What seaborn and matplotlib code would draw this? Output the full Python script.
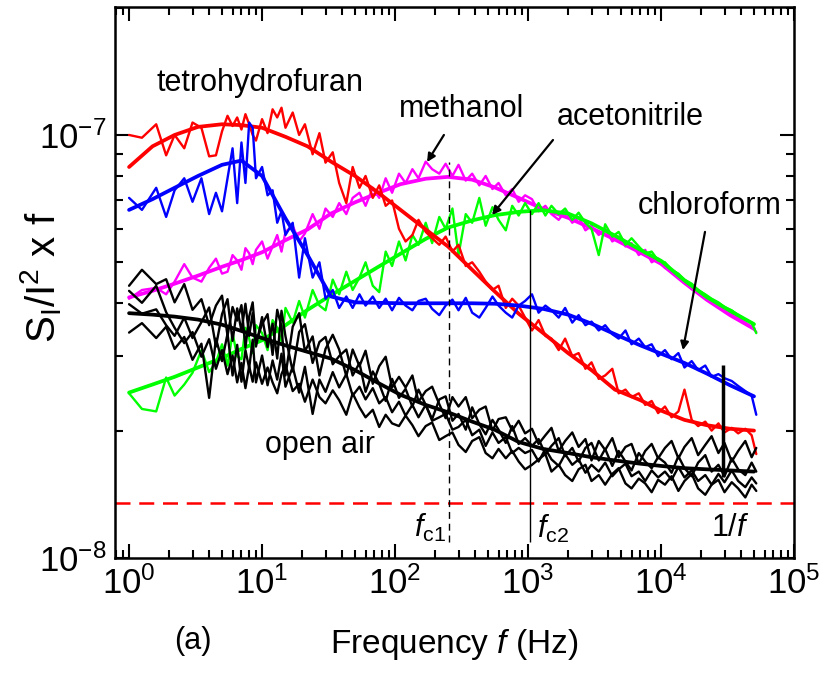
import numpy as np
import seaborn as sns
import matplotlib
matplotlib.use('Agg')
import matplotlib.pyplot as plt
from matplotlib.ticker import LogLocator, NullFormatter

# measured spectra, S_I/I^2 x f in units of 1e-8, on a common frequency grid (Hz)
freq = [1.0, 1.25, 1.6, 1.9, 2.2, 2.6, 3.0, 3.5, 4.0, 4.5, 5.0, 5.5, 6.0, 6.5, 7.0, 7.5, 8.0, 8.5, 9.0,
        10, 11, 12, 13, 14, 15, 17, 19, 21, 24, 27, 30, 34, 38, 43, 48, 54, 60, 68, 76, 85, 95,
        107, 120, 135, 150, 170, 190, 215, 240, 270, 300, 340, 380, 430, 480, 540, 600, 680, 760, 850, 950,
        1070, 1200, 1350, 1500, 1700, 1900, 2150, 2400, 2700, 3000, 3400, 3800, 4300, 4800, 5400, 6000, 6800, 7600, 8500, 9500,
        10700, 12000, 13500, 15000, 17000, 19000, 21500, 24000, 27000, 30000, 34000, 38000, 43000, 48000, 52000]

thf = [10.0, 9.85, 10.6, 8.95, 10.0, 9.3, 10.7, 10.4, 8.9, 8.95, 10.2, 11.1, 10.5, 11.0, 10.3, 11.2, 10.6, 10.0, 9.7,
       10.9, 10.1, 11.5, 11.0, 11.6, 10.4, 11.3, 10.0, 10.6, 9.0, 10.1, 8.6, 9.1, 7.7, 6.9, 8.4, 7.5, 8.0, 7.1, 7.6, 6.8, 7.0,
       6.0, 5.6, 5.8, 6.3, 5.9, 5.7, 5.5, 5.75, 5.3, 5.5, 4.9, 5.0, 4.75, 4.5, 4.3, 4.4, 3.9, 4.1, 3.95, 3.7,
       3.45, 3.65, 3.35, 3.3, 3.1, 3.3, 3.0, 3.05, 2.8, 2.9, 2.65, 2.7, 2.8, 2.45, 2.5, 2.4, 2.45, 2.3, 2.35, 2.2,
       2.28, 2.15, 2.22, 2.5, 2.12, 2.05, 2.1, 2.0, 2.08, 1.98, 2.03, 1.97, 2.02, 1.95, 1.76]

chloroform = [7.1, 6.65, 7.5, 6.4, 7.4, 7.9, 6.95, 7.9, 6.5, 7.3, 6.6, 7.9, 9.3, 6.9, 9.6, 7.7, 10.7, 10.4, 7.9,
              8.4, 7.2, 7.4, 6.2, 6.6, 5.8, 6.2, 4.6, 5.7, 4.6, 5.0, 4.1, 4.3, 3.9, 4.15, 3.9, 4.2, 3.95, 4.15, 3.9, 4.1, 3.85,
              4.12, 3.95, 3.85, 4.05, 4.1, 3.88, 3.75, 3.95, 4.08, 3.85, 4.12, 3.8, 3.7, 3.9, 4.15, 3.95, 3.8, 3.7, 3.95, 4.05,
              4.2, 3.8, 3.95, 3.85, 3.7, 3.9, 3.6, 3.75, 3.55, 3.62, 3.45, 3.55, 3.38, 3.3, 3.45, 3.2, 3.3, 3.15, 3.2, 3.0,
              3.1, 2.95, 3.05, 2.82, 2.92, 2.78, 2.85, 2.68, 2.72, 2.66, 2.62, 2.55, 2.48, 2.42, 2.18]

methanol = [4.1, 4.3, 4.35, 4.2, 4.5, 4.95, 4.6, 4.5, 4.85, 5.1, 4.7, 4.75, 5.2, 5.05, 4.8, 5.4, 5.25, 4.95, 5.35,
            5.6, 5.1, 5.45, 5.8, 5.3, 5.9, 6.1, 5.6, 5.85, 6.5, 6.0, 6.7, 6.4, 6.9, 6.5, 7.1, 7.3, 6.8, 7.5, 7.1, 7.9, 7.3,
            8.1, 7.7, 8.3, 7.9, 8.65, 8.3, 8.1, 8.55, 8.0, 8.5, 7.8, 8.1, 7.6, 8.0, 7.45, 7.7, 7.2, 7.45, 6.95, 7.2,
            7.05, 6.6, 6.8, 6.5, 6.3, 6.6, 6.2, 6.4, 5.95, 6.1, 5.8, 6.0, 5.6, 5.75, 5.45, 5.55, 5.2, 5.35, 5.0, 5.1,
            4.85, 4.78, 4.6, 4.5, 4.32, 4.3, 4.1, 4.05, 3.9, 3.9, 3.78, 3.7, 3.6, 3.52, 3.42]

acetonitrile = [2.45, 2.25, 2.22, 2.67, 2.42, 2.57, 2.74, 3.1, 2.75, 2.9, 3.2, 2.85, 3.4, 3.0, 2.95, 3.5, 3.3, 3.05, 3.55,
                3.4, 3.1, 3.65, 3.5, 3.25, 3.9, 3.6, 4.05, 3.7, 4.3, 3.95, 3.85, 4.55, 4.2, 4.75, 4.3, 4.6, 5.0, 4.4, 4.25, 5.3, 4.9,
                5.6, 5.05, 5.8, 5.5, 6.2, 5.55, 6.4, 6.0, 6.7, 5.2, 6.5, 6.2, 7.1, 6.1, 6.75, 6.3, 5.95, 6.8, 6.45, 6.9,
                6.5, 6.9, 6.45, 6.8, 6.5, 6.7, 6.3, 6.55, 6.2, 6.0, 5.2, 6.15, 5.75, 5.9, 5.5, 5.7, 5.45, 5.25, 5.3, 5.05,
                5.0, 4.8, 4.7, 4.55, 4.45, 4.3, 4.2, 4.1, 4.02, 3.92, 3.85, 3.75, 3.66, 3.6, 3.4]

air_1 = [4.4, 4.8, 4.44, 4.56, 4.02, 4.44, 3.86, 4.09, 3.55, 3.95, 4.17, 3.35, 3.92, 3.64, 3.96, 3.14, 3.72, 4.02, 3.23,
         3.57, 3.77, 3.02, 3.86, 3.52, 2.7, 3.52, 3.79, 3.08, 3.34, 2.7, 3.12, 3.37, 3.11, 2.69, 3.11, 2.84, 3.09, 2.58, 2.84, 2.99, 2.53,
         2.68, 2.53, 2.7, 2.34, 2.48, 2.54, 2.31, 2.14, 2.4, 2.28, 2.4, 2.14, 2.24, 2.28, 2.0, 2.13, 2.15, 2.0, 2.11, 1.97,
         2.02, 1.86, 1.95, 2.03, 1.79, 1.89, 1.98, 1.83, 1.91, 1.7, 1.89, 1.8, 1.92, 1.73, 1.83, 1.86, 1.67, 1.79, 1.86, 1.72,
         1.82, 1.89, 1.72, 1.83, 1.92, 1.75, 1.85, 1.94, 1.77, 1.87, 1.69, 1.79, 1.89, 1.73, 1.82]
air_2 = [3.98, 3.78, 3.87, 3.55, 3.35, 3.7, 3.31, 3.61, 3.91, 3.16, 3.77, 4.09, 3.26, 3.89, 3.44, 3.99, 3.35, 3.79, 3.16,
         3.71, 3.15, 3.58, 2.96, 3.84, 3.34, 2.76, 3.42, 3.57, 2.89, 3.24, 3.33, 2.87, 3.0, 3.11, 2.7, 2.89, 2.47, 2.76, 2.58, 2.35, 2.65,
         2.39, 2.51, 2.28, 2.5, 2.3, 2.13, 2.37, 2.41, 2.11, 2.19, 2.01, 2.27, 2.07, 1.96, 2.12, 2.01, 1.87, 2.05, 1.86, 1.92,
         1.84, 1.91, 1.76, 1.84, 1.92, 1.74, 1.82, 1.69, 1.82, 1.87, 1.7, 1.81, 1.65, 1.79, 1.69, 1.61, 1.77, 1.69, 1.63, 1.73,
         1.68, 1.59, 1.74, 1.63, 1.56, 1.68, 1.75, 1.6, 1.66, 1.56, 1.72, 1.62, 1.57, 1.68, 1.6]
air_3 = [3.41, 3.59, 3.31, 3.52, 3.12, 3.33, 2.94, 3.21, 2.39, 3.3, 2.92, 3.39, 2.7, 3.19, 2.61, 3.1, 2.81, 3.28, 2.6,
         3.01, 2.56, 2.93, 2.64, 3.04, 2.54, 2.83, 2.46, 2.83, 2.19, 2.64, 2.47, 2.75, 2.53, 2.72, 2.42, 2.54, 2.37, 2.52, 2.32, 2.4, 2.21,
         2.34, 2.17, 2.3, 2.15, 2.3, 2.11, 2.15, 2.19, 2.01, 2.04, 2.12, 1.95, 2.01, 1.84, 1.98, 1.87, 1.93, 1.77, 1.82, 1.77,
         1.8, 1.69, 1.81, 1.71, 1.65, 1.76, 1.66, 1.71, 1.59, 1.66, 1.6, 1.68, 1.56, 1.62, 1.67, 1.56, 1.6, 1.52, 1.61, 1.55,
         1.6, 1.53, 1.64, 1.55, 1.61, 1.52, 1.57, 1.49, 1.58, 1.51, 1.61, 1.52, 1.47, 1.55, 1.5]
air_4 = [4.28, 4.01, 4.4, 3.81, 3.5, 3.22, 3.42, 2.99, 3.29, 2.8, 3.1, 2.72, 3.01, 2.6, 2.89, 2.52, 2.84, 2.61, 2.9,
         2.58, 2.82, 2.6, 2.45, 2.72, 2.86, 2.48, 2.58, 2.34, 2.64, 2.4, 2.32, 2.49, 2.36, 2.18, 2.45, 2.27, 2.15, 2.24, 2.04, 2.18, 2.08,
         2.05, 2.17, 2.06, 1.94, 2.05, 2.09, 1.9, 1.94, 1.98, 1.85, 1.78, 1.89, 1.93, 1.77, 1.72, 1.81, 1.72, 1.79, 1.69, 1.62,
         1.66, 1.71, 1.76, 1.6, 1.66, 1.57, 1.52, 1.62, 1.66, 1.52, 1.57, 1.49, 1.58, 1.63, 1.5, 1.46, 1.54, 1.5, 1.43, 1.53,
         1.49, 1.56, 1.44, 1.52, 1.58, 1.46, 1.41, 1.49, 1.53, 1.43, 1.51, 1.46, 1.39, 1.49, 1.44]

# fitted curves (same units)
fit_freq = [1, 1.5, 2.2, 3.3, 5, 7, 10, 15, 22, 33, 50, 75, 110, 170, 250, 380, 560, 850,
            1300, 2000, 3000, 4500, 7000, 10000, 15000, 22000, 33000, 50000]
thf_fit = [8.4, 9.4, 10.0, 10.45, 10.6, 10.55, 10.4, 9.9, 9.4, 8.65, 8.0, 7.3, 6.65, 5.98, 5.45, 4.8, 4.27, 3.78,
           3.4, 3.05, 2.78, 2.5, 2.36, 2.23, 2.12, 2.06, 2.02, 2.0]
chloroform_fit = [6.65, 7.05, 7.5, 8.0, 8.5, 8.7, 8.0, 6.35, 5.2, 4.15, 4.02, 4.01, 4.0, 4.0, 4.0, 4.0, 3.99, 3.95,
                  3.88, 3.76, 3.58, 3.38, 3.18, 3.04, 2.89, 2.73, 2.56, 2.41]
methanol_fit = [4.13, 4.28, 4.45, 4.65, 4.88, 5.06, 5.28, 5.64, 5.98, 6.52, 6.93, 7.30, 7.65, 7.88, 7.96, 7.84, 7.52, 7.10,
                6.68, 6.37, 6.02, 5.66, 5.27, 4.96, 4.47, 4.08, 3.75, 3.48]
acetonitrile_fit = [2.46, 2.57, 2.68, 2.82, 2.97, 3.12, 3.27, 3.55, 3.86, 4.18, 4.52, 4.88, 5.24, 5.68, 6.04, 6.28, 6.46, 6.58,
                    6.64, 6.52, 6.18, 5.78, 5.35, 5.04, 4.53, 4.14, 3.84, 3.57]
air_fit = [3.79, 3.76, 3.72, 3.66, 3.56, 3.44, 3.31, 3.18, 3.07, 2.96, 2.78, 2.59, 2.43, 2.30, 2.21, 2.10, 2.01, 1.88,
           1.81, 1.77, 1.73, 1.70, 1.67, 1.65, 1.63, 1.62, 1.61, 1.60]

# markers
f_c1, f_c2, f_one = 255, 1035, 29000
c1_span = [1.09, 8.63]
c2_span = [1.09, 6.65]
one_span = [1.55, 2.86]
noise_floor = 1.35

sns.set_style('ticks')
plt.rcParams['font.family'] = ['Liberation Sans', 'DejaVu Sans']
plt.rcParams['mathtext.fontset'] = 'custom'
plt.rcParams['mathtext.rm'] = 'Liberation Sans'
plt.rcParams['mathtext.it'] = 'Liberation Sans:italic'
plt.rcParams['mathtext.bf'] = 'Liberation Sans:bold'
for key in ['axes.edgecolor', 'xtick.color', 'ytick.color', 'text.color', 'axes.labelcolor']:
    plt.rcParams[key] = 'black'

fig = plt.figure(figsize=(8.22, 6.73), dpi=100)
ax = fig.add_axes([0.140, 0.171, 0.826, 0.819])
ax.set_xscale('log')
ax.set_yscale('log')

u = 1e-8
series = [(methanol, methanol_fit, '#ff00ff'),
          (acetonitrile, acetonitrile_fit, '#00ff00'),
          (thf, thf_fit, '#ff0000'),
          (chloroform, chloroform_fit, '#0000ff')]
for vals, fit, col in series:
    sns.lineplot(x=freq, y=np.array(vals) * u, color=col, lw=1.7, ax=ax)
    sns.lineplot(x=fit_freq, y=np.array(fit) * u, color=col, lw=2.7, ax=ax)
for vals in [air_1, air_2, air_3, air_4]:
    sns.lineplot(x=freq, y=np.array(vals) * u, color='black', lw=1.7, ax=ax)
sns.lineplot(x=fit_freq, y=np.array(air_fit) * u, color='black', lw=2.7, ax=ax)

ax.axhline(noise_floor * u, color='red', lw=1.8, ls=(0, (6, 3.5)))
ax.vlines(f_c1, c1_span[0] * u, c1_span[1] * u, color='black', lw=1.0, ls=(0, (5, 3.5)))
ax.vlines(f_c2, c2_span[0] * u, c2_span[1] * u, color='black', lw=1.0)
ax.vlines(f_one, one_span[0] * u, one_span[1] * u, color='black', lw=2.5)

ax.set_xlim(0.785, 1e5)
ax.set_ylim(1e-8, 2.01e-7)

for sp in ax.spines.values():
    sp.set_linewidth(1.8)
ax.tick_params(which='both', direction='in', top=True, right=True, width=1.5, color='black')
ax.tick_params(which='major', length=10, labelsize=25, pad=6)
ax.tick_params(which='minor', length=6)
for axis in (ax.xaxis, ax.yaxis):
    axis.set_major_locator(LogLocator(base=10, numticks=12))
    axis.set_minor_locator(LogLocator(base=10, subs=np.arange(2, 10), numticks=12))
    axis.set_minor_formatter(NullFormatter())

ax.set_xlabel('Frequency $f$ (Hz)', fontsize=24)
ax.xaxis.set_label_coords(0.5, -0.125)
ax.set_ylabel(r'S$_\mathrm{I}$/I$^\mathrm{2}$ x f', fontsize=29)
ax.yaxis.set_label_coords(-0.075, 0.51)

fs = 22
ax.text(9.66, 13.3 * u, 'tetrohydrofuran', ha='center', va='center', fontsize=fs)
ax.text(319, 11.5 * u, 'methanol', ha='center', va='center', fontsize=fs)
ax.text(5850, 11.0 * u, 'acetonitrile', ha='center', va='center', fontsize=fs)
ax.text(23300, 6.79 * u, 'chloroform', ha='center', va='center', fontsize=fs)
ax.text(27.3, 1.85 * u, 'open air', ha='center', va='center', fontsize=fs)
ax.text(183, 1.18 * u, r'$f_\mathrm{c1}$', ha='center', va='center', fontsize=fs)
ax.text(1540, 1.17 * u, r'$f_\mathrm{c2}$', ha='center', va='center', fontsize=fs)
ax.text(33000, 1.18 * u, r'1/$f$', ha='center', va='center', fontsize=fs)

arrow = dict(arrowstyle='-|>', color='black', lw=1.6, mutation_scale=12, shrinkA=0, shrinkB=0)
ax.annotate('', xy=(174, 8.63 * u), xytext=(233, 10.0 * u), arrowprops=arrow)
ax.annotate('', xy=(536, 6.47 * u), xytext=(1540, 9.73 * u), arrowprops=arrow)
ax.annotate('', xy=(14600, 3.10 * u), xytext=(21400, 5.9 * u), arrowprops=arrow)

fig.text(0.235, 0.048, '(a)', fontsize=fs, ha='center', va='center')

fig.savefig('out.png', dpi=100)
